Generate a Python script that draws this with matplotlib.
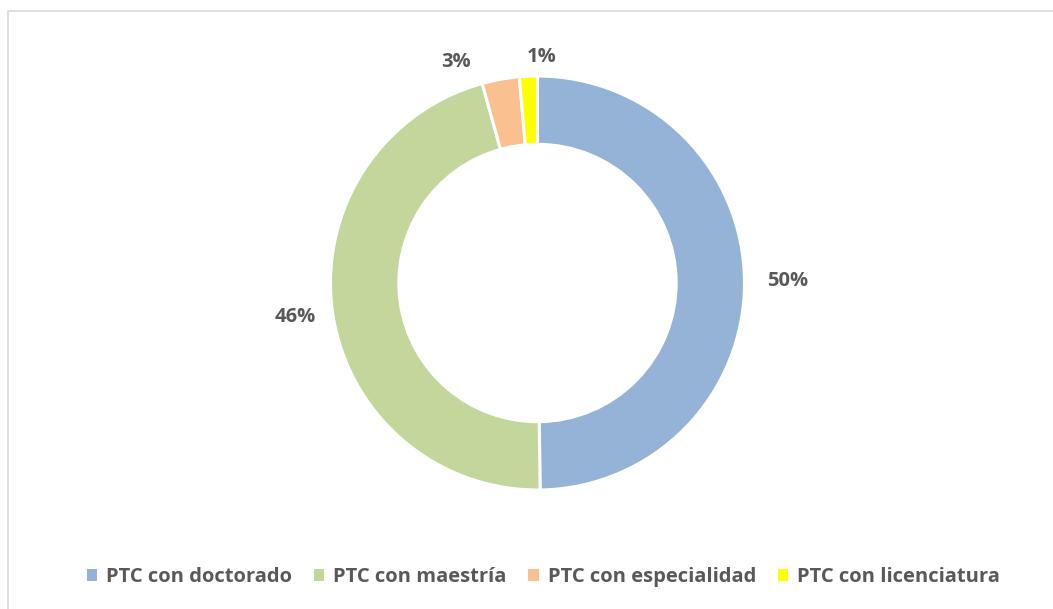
import numpy as np
import matplotlib
matplotlib.use("Agg")
import matplotlib.pyplot as plt
from matplotlib.patches import Rectangle

categories = ["PTC con doctorado", "PTC con maestría", "PTC con especialidad", "PTC con licenciatura"]
values = [49.8, 45.9, 2.9, 1.4]
labels = ["50%", "46%", "3%", "1%"]
colors = ["#95B3D7", "#C3D69B", "#FAC090", "#FFFF00"]

# label placement styles (radius in data units, angle nudge in degrees)
label_radius = [1.21, 1.18, 1.14, 1.09]
label_nudge = [0, 0, 10, -3.5]

W, H = 1053, 609
fig = plt.figure(figsize=(W / 100, H / 100), dpi=100)
fig.patch.set_facecolor("white")

# outer frame (light grey)
fig.patches.append(Rectangle((8 / W, -0.1), 1.2, (H - 11) / H + 0.1,
                             transform=fig.transFigure, fill=False,
                             edgecolor="#D9D9D9", linewidth=1.2))

cx, cy, R = 537.5, 283, 207
lim = 1.3
size = 2 * lim * R
ax = fig.add_axes([(cx - size / 2) / W, (H - cy - size / 2) / H, size / W, size / H])

font = "Open Sans"
wedges, _ = ax.pie(values, colors=colors, startangle=90, counterclock=False,
                   radius=1.0, wedgeprops=dict(width=0.33, edgecolor="white", linewidth=2.2))
ax.set_xlim(-lim, lim)
ax.set_ylim(-lim, lim)
ax.set_aspect("equal")
ax.axis("off")

for w, lab, r, nd in zip(wedges, labels, label_radius, label_nudge):
    ang = np.deg2rad((w.theta1 + w.theta2) / 2 + nd)
    ax.text(r * np.cos(ang), r * np.sin(ang), lab, ha="center", va="center",
            fontsize=14.5, fontweight="bold", color="#595959", family=font)

leg = fig.legend(wedges, categories, loc="center", bbox_to_anchor=(0.516, 1 - 577 / H),
                 ncol=4, frameon=False, handlelength=0.5, handleheight=0.5,
                 handletextpad=0.45, columnspacing=1.1,
                 prop=dict(family=font, weight="bold", size=14.5))
for t in leg.get_texts():
    t.set_color("#595959")
for h in leg.legend_handles:
    h.set_edgecolor("none")

fig.savefig("out.png", dpi=100, facecolor="white")
